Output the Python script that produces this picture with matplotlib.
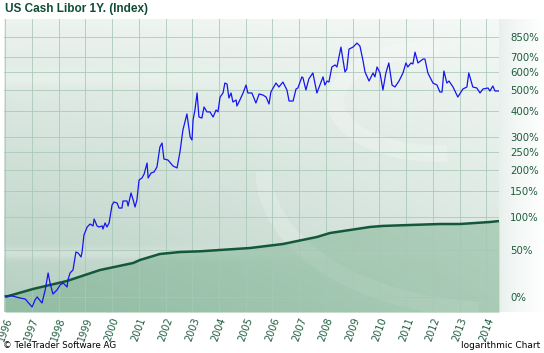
import matplotlib
matplotlib.use("Agg")
import matplotlib.pyplot as plt
import matplotlib.transforms as mtransforms
from matplotlib.patches import Arc
from matplotlib.ticker import NullLocator
import numpy as np

# libor 1Y (blue) -- change in % since 1996
libor_t = [1996.00, 1996.26, 1996.56, 1996.75, 1997.01, 1997.12, 1997.20, 1997.38, 1997.50, 1997.61,
           1997.68, 1997.79, 1997.94, 1998.06, 1998.17, 1998.32, 1998.35, 1998.43, 1998.54, 1998.65,
           1998.73, 1998.84, 1998.88, 1998.95, 1999.07, 1999.18, 1999.29, 1999.33, 1999.44, 1999.51,
           1999.63, 1999.66, 1999.74, 1999.81, 1999.89, 2000.00, 2000.07, 2000.19, 2000.26, 2000.37,
           2000.41, 2000.56, 2000.60, 2000.71, 2000.79, 2000.86, 2000.93, 2001.01, 2001.12, 2001.20,
           2001.31, 2001.35, 2001.46, 2001.57, 2001.68, 2001.79, 2001.87, 2001.94, 2002.09, 2002.28,
           2002.43, 2002.54, 2002.65, 2002.80, 2002.92, 2002.99, 2003.03, 2003.10, 2003.18, 2003.25,
           2003.36, 2003.44, 2003.55, 2003.66, 2003.78, 2003.89, 2003.96, 2004.04, 2004.15, 2004.22,
           2004.30, 2004.37, 2004.45, 2004.52, 2004.64, 2004.67, 2004.78, 2004.90, 2005.01, 2005.08,
           2005.23, 2005.38, 2005.50, 2005.64, 2005.76, 2005.87, 2005.94, 2006.13, 2006.24, 2006.39,
           2006.54, 2006.62, 2006.77, 2006.88, 2006.95, 2007.10, 2007.14, 2007.25, 2007.36, 2007.51,
           2007.66, 2007.89, 2007.96, 2008.04, 2008.11, 2008.22, 2008.34, 2008.41, 2008.56, 2008.71,
           2008.78, 2008.86, 2009.01, 2009.16, 2009.27, 2009.38, 2009.46, 2009.61, 2009.76, 2009.83,
           2009.91, 2010.02, 2010.13, 2010.24, 2010.35, 2010.47, 2010.58, 2010.73, 2010.88, 2010.99,
           2011.06, 2011.18, 2011.25, 2011.33, 2011.44, 2011.63, 2011.70, 2011.81, 2012.00, 2012.15,
           2012.26, 2012.34, 2012.41, 2012.52, 2012.60, 2012.75, 2012.93, 2013.12, 2013.27, 2013.34,
           2013.49, 2013.64, 2013.76, 2013.87, 2014.06, 2014.13, 2014.24, 2014.32, 2014.47]
libor_pct = [0.9, 0.9, -0.9, -1.7, -8.3, -2.6, 0.0, -5.1, 6.2, 23.1,
             12.9, 2.6, 6.2, 10.9, 12.9, 9.0, 15.9, 23.1, 26.3, 47.6,
             46.4, 41.4, 47.6, 71.1, 83.3, 88.1, 85.0, 96.4, 85.0, 83.3,
             85.0, 80.1, 89.8, 83.3, 89.8, 121.6, 127.6, 125.6, 116.0, 116.0,
             129.6, 129.6, 119.8, 146.1, 131.6, 117.9, 131.6, 175.4, 180.2, 190.0,
             219.0, 180.2, 192.6, 195.1, 208.2, 266.4, 279.3, 230.3, 227.4, 210.9,
             205.6, 250.9, 324.5, 387.7, 299.6, 289.3, 363.0, 404.7, 484.9, 375.0,
             370.9, 418.0, 396.6, 396.6, 375.0, 404.7, 396.6, 464.9, 484.9, 537.5,
             532.0, 460.0, 484.9, 441.0, 450.4, 422.5, 450.4, 484.9, 526.6, 484.9,
             484.9, 436.4, 479.9, 474.9, 464.9, 431.8, 489.9, 537.5, 516.2, 543.0,
             500.3, 445.7, 445.7, 505.5, 510.8, 572.5, 566.7, 500.3, 560.9, 595.6,
             484.9, 572.5, 526.6, 548.7, 543.0, 632.6, 645.6, 632.6, 770.3, 601.7,
             620.0, 755.2, 770.3, 801.2, 777.7, 678.0, 601.7, 548.7, 595.6, 572.5,
             632.6, 595.6, 500.3, 595.6, 658.5, 526.6, 516.2, 548.7, 595.6, 658.5,
             632.6, 658.5, 652.0, 733.1, 658.5, 684.8, 684.8, 595.6, 537.5, 526.6,
             489.9, 489.9, 607.8, 537.5, 548.7, 516.2, 464.9, 505.5, 516.2, 595.6,
             516.2, 510.8, 484.9, 505.5, 510.8, 495.0, 521.4, 495.0, 495.0]

# accumulated index (dark green)
index_t = [1996.00, 1997.05, 1998.32, 1999.55, 2000.79, 2001.05, 2001.79, 2002.54, 2003.29, 2005.16,
           2006.39, 2007.66, 2008.15, 2008.90, 2009.64, 2010.13, 2011.14, 2012.26, 2013.01, 2014.13, 2014.47]
index_pct = [0.0, 7.2, 14.9, 26.3, 34.2, 37.8, 45.1, 47.6, 48.5, 52.8,
             58.2, 68.1, 74.0, 78.6, 83.3, 85.0, 86.5, 88.1, 88.1, 91.4, 93.0]

years = list(range(1996, 2015))
ytick_pct = [0, 50, 100, 150, 200, 250, 300, 400, 500, 600, 700, 850]

W, H = 544, 353
fig = plt.figure(figsize=(W / 100, H / 100), dpi=100)
fig.patch.set_facecolor('white')

# light panel behind the right-hand labels
side = fig.add_axes([499 / W, 41 / H, 45 / W, 293 / H])
g = np.linspace(0, 1, 100)[None, :, None]
c0 = np.array([0.91, 0.94, 0.925])
side.imshow(c0 + (1 - c0) * g ** 0.8 * np.ones((50, 1, 1)), aspect='auto', extent=[0, 1, 0, 1])
side.axis('off')
side.set_zorder(0)

ax = fig.add_axes([4 / W, 1 - 312 / H, 495 / W, 293 / H])
ax.set_zorder(1)

# background gradient of the plot area
ty = np.linspace(0, 1, 300)[:, None, None]
tx = np.linspace(0, 1, 500)[None, :, None]
top = np.array([0.93, 0.955, 0.94])
bot = np.array([0.71, 0.81, 0.76])
bg = top + (bot - top) * ty ** 0.9
bg = bg + (1 - bg) * 0.45 * tx ** 1.2
streak = 0.25 * np.exp(-((ty - 0.20) / 0.03) ** 2) * (1 - tx) + 0.3 * np.exp(-((ty - 0.80) / 0.02) ** 2) * (1 - tx)
bg = bg + (1 - bg) * streak
ax.imshow(np.clip(bg, 0, 1), aspect='auto', extent=[0, 1, 0, 1], transform=ax.transAxes, zorder=0)

# watermark swoosh
ax.add_patch(Arc((0.88, 0.72), 0.42, 0.36, theta1=90, theta2=275, transform=ax.transAxes,
                 color='white', lw=12, alpha=0.22, zorder=1))
ax.add_patch(Arc((1.0, 0.48), 0.95, 0.95, theta1=180, theta2=265, transform=ax.transAxes,
                 color='white', lw=12, alpha=0.2, zorder=1))

lib = 1 + np.array(libor_pct) / 100
idx = 1 + np.array(index_pct) / 100

ax.set_yscale('log')
ax.set_xlim(1995.96, 2014.47)
ax.set_ylim(0.878, 11.10)

ax.fill_between(index_t, 0.5, idx, color='#4f9a68', alpha=0.33, lw=0, zorder=2)
ax.plot(index_t, idx, color='#14583a', lw=1.8, zorder=3, solid_capstyle='butt')
ax.plot(libor_t, lib, color='#1515f0', lw=0.9, zorder=4)

ax.set_xticks(years)
ax.set_xticklabels([str(y) for y in years], rotation=70, ha='center', va='top',
                   fontsize=7, color='#1d5c3c')
shift = mtransforms.ScaledTranslation(3 / 100, 0, fig.dpi_scale_trans)
for lab in ax.get_xticklabels():
    lab.set_transform(lab.get_transform() + shift)
ax.set_yticks([1 + p / 100 for p in ytick_pct])
ax.set_yticklabels([f'{p}%' for p in ytick_pct], fontsize=7.3, color='#1d5c3c')
ax.yaxis.set_minor_locator(NullLocator())
ax.yaxis.tick_right()
ax.tick_params(axis='both', length=0)
ax.tick_params(axis='y', pad=8)
ax.tick_params(axis='x', pad=3)
ax.grid(True, color='#a7c7b6', lw=0.7, alpha=0.8, zorder=1)
ax.set_axisbelow(False)
for s in ax.spines.values():
    s.set_visible(False)

fig.text(5 / W, 1 - 9 / H, 'US Cash Libor 1Y. (Index)', fontsize=8.5, fontweight='bold',
         family='Liberation Sans', color='#0f4d33', va='center', ha='left')
fig.text(3 / W, 1 - 346 / H, '\u00a9 TeleTrader Software AG', fontsize=6.3, color='black',
         va='center', ha='left')
fig.text(540 / W, 1 - 346 / H, 'logarithmic Chart', fontsize=6.5, color='black',
         va='center', ha='right')

fig.savefig('out.png', dpi=100)
